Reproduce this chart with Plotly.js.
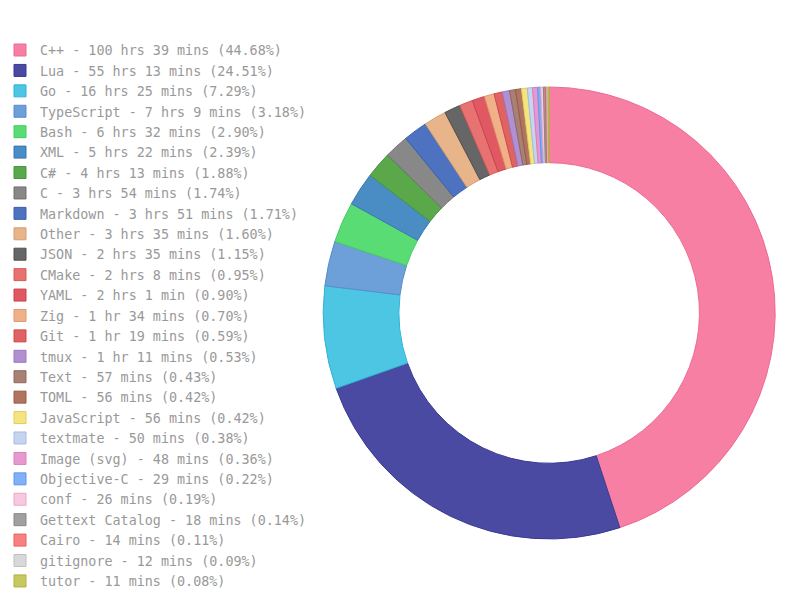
<!DOCTYPE html>
<html>
<head>
<meta charset="utf-8">
<script src="https://cdn.plot.ly/plotly-3.0.1.min.js"></script>
<style>html,body{margin:0;padding:0;background:#fff;}#chart{width:800px;height:600px;}</style>
</head>
<body>
<div id="chart"></div>
<script>
const languages = ["C++","Lua","Go","TypeScript","Bash","XML","C#","C","Markdown","Other","JSON","CMake","YAML","Zig","Git","tmux","Text","TOML","JavaScript","textmate","Image (svg)","Objective-C","conf","Gettext Catalog","Cairo","gitignore","tutor"];
const durations = ["100 hrs 39 mins","55 hrs 13 mins","16 hrs 25 mins","7 hrs 9 mins","6 hrs 32 mins","5 hrs 22 mins","4 hrs 13 mins","3 hrs 54 mins","3 hrs 51 mins","3 hrs 35 mins","2 hrs 35 mins","2 hrs 8 mins","2 hrs 1 min","1 hr 34 mins","1 hr 19 mins","1 hr 11 mins","57 mins","56 mins","56 mins","50 mins","48 mins","29 mins","26 mins","18 mins","14 mins","12 mins","11 mins"];
const percents = ["44.68","24.51","7.29","3.18","2.90","2.39","1.88","1.74","1.71","1.60","1.15","0.95","0.90","0.70","0.59","0.53","0.43","0.42","0.42","0.38","0.36","0.22","0.19","0.14","0.11","0.09","0.08"];
const minutes = [6039,3313,985,429,392,322,253,234,231,215,155,128,121,94,79,71,57,56,56,50,48,29,26,18,14,12,11];
const fillColors = ["#f77fa3","#4b4aa3","#4dc6e3","#6d9fd8","#5adc75","#4a8cc4","#5aa84a","#888888","#4d73c0","#e8b48a","#666666","#e87272","#e05862","#f0b088","#e06262","#b090d0","#a88074","#b07460","#f5e580","#c5d5f0","#e898d0","#80b0f8","#f8c8e0","#a0a0a0","#f88080","#d8d8d8","#c8c860"];
const lineColors = ["#ee6a94","#3a3a96","#2fb4d8","#5a8cca","#45cc60","#3a78b4","#459540","#707070","#3a5fb0","#d89c70","#505050","#d85a5a","#c84450","#e09870","#cc4c4c","#9a78c0","#906860","#985c48","#e0cc60","#a8bce0","#d880bc","#6098e8","#e8a8c8","#888888","#e86060","#c0c0c0","#b0b040"];

const labels = languages.map((l, i) => `${l} - ${durations[i]} (${percents[i]}%)`);

const data = [{
  type: 'pie',
  labels: labels,
  values: minutes,
  sort: false,
  direction: 'clockwise',
  rotation: 0,
  hole: 0.665,
  textinfo: 'none',
  marker: { colors: fillColors, line: { color: lineColors, width: 1 } },
  domain: { x: [0.404, 0.969], y: [0.1017, 0.855] },
  hoverinfo: 'label'
}];

const layout = {
  width: 800, height: 600,
  margin: { l: 0, r: 0, t: 0, b: 0 },
  paper_bgcolor: '#fff',
  showlegend: true,
  legend: {
    x: 0, xanchor: 'left', y: 0.942, yanchor: 'top',
    font: { family: 'DejaVu Sans Mono', size: 13.4, color: '#999999' },
    bgcolor: 'rgba(0,0,0,0)',
    tracegroupgap: 0
  }
};

Plotly.newPlot('chart', data, layout, { displayModeBar: false, staticPlot: true });
</script>
</body>
</html>
